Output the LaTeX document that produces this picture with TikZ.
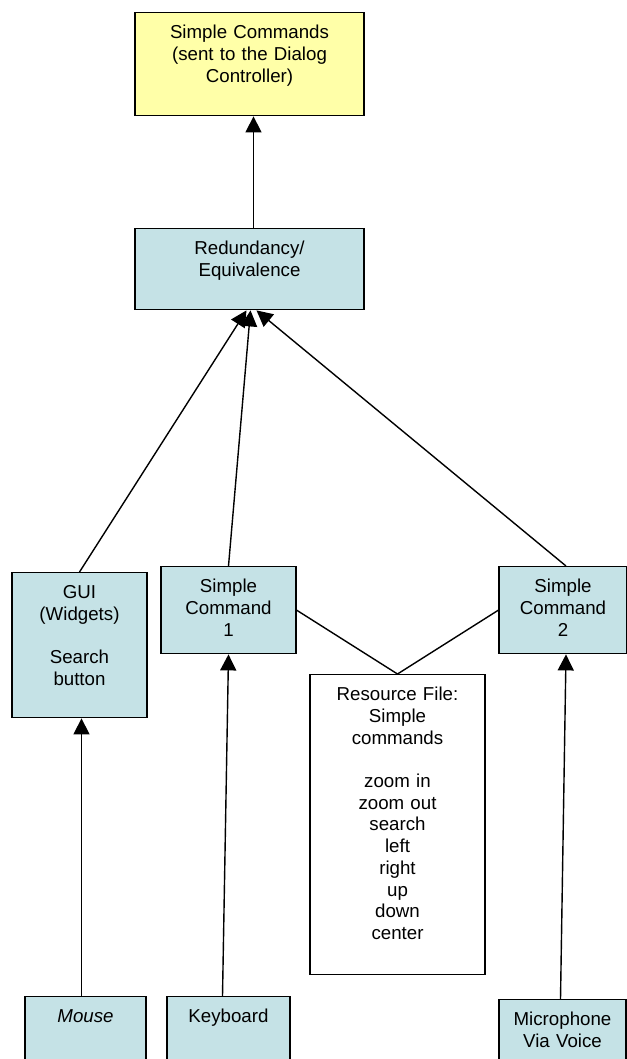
\documentclass[tikz,border=0pt]{standalone}
\usepackage{fontspec}
\setmainfont{Liberation Sans}
\usetikzlibrary{arrows.meta}
\definecolor{cmdyellow}{RGB}{255,255,168}
\definecolor{cmdblue}{RGB}{197,226,230}

\begin{document}
\begin{tikzpicture}[x=1pt,y=-1pt,>={Triangle[width=16pt,length=16pt]},line width=1.4pt,
  main node/.style={draw,fill=cmdblue,anchor=north,align=center,inner sep=0pt,
    text height=26pt,font=\fontsize{18.7}{21.7}\selectfont}]
  \useasboundingbox (0,0) rectangle (626,1059);
  \node[main node,fill=cmdyellow,text width=229pt,text depth=77pt] (cmds) at (249.5,12) {Simple Commands\\(sent to the Dialog\\Controller)};
  \node[main node,text width=229pt,text depth=55pt] (red) at (249.5,228) {Redundancy/\\Equivalence};
  \node[main node,text width=135pt,text depth=119pt] (gui) at (79.5,572) {GUI\\(Widgets)\\[21.7pt]Search\\button};
  \node[main node,text width=135pt,text depth=61pt] (sc1) at (228.5,566) {Simple\\Command\\1};
  \node[main node,text width=128pt,text depth=61pt] (sc2) at (563,566) {Simple\\Command\\2};
  \node[main node,fill=white,text width=175pt,text depth=274pt] (res) at (397.5,674) {Resource File:\\Simple\\commands\\[21.7pt]zoom in\\zoom out\\search\\left\\right\\up\\down\\center};
  \node[main node,text width=121pt,text depth=54pt] (mouse) at (85.5,996) {\textit{Mouse}};
  \node[main node,text width=123pt,text depth=54pt] (kbd) at (228.5,996) {Keyboard};
  \node[main node,text width=127pt,text depth=54pt] (mic) at (562.5,999) {Microphone\\Via Voice};

  \draw[->] ([xshift=4pt]red.north) -- ([xshift=4pt]cmds.south);
  \draw[->] (gui.north) -- ([xshift=-3pt]red.south);
  \draw[->] (sc1.north) -- ([xshift=1pt]red.south);
  \draw[->] ([xshift=3pt]sc2.north) -- ([xshift=7pt]red.south);
  \draw[->] ([xshift=-4pt]mouse.north) -- ([xshift=2pt]gui.south);
  \draw[->] ([xshift=-6pt]kbd.north) -- (sc1.south);
  \draw[->] ([xshift=-2pt]mic.north) -- ([xshift=3pt]sc2.south);
  \draw (sc1.east) -- (res.north);
  \draw (sc2.west) -- (res.north);
\end{tikzpicture}
\end{document}
